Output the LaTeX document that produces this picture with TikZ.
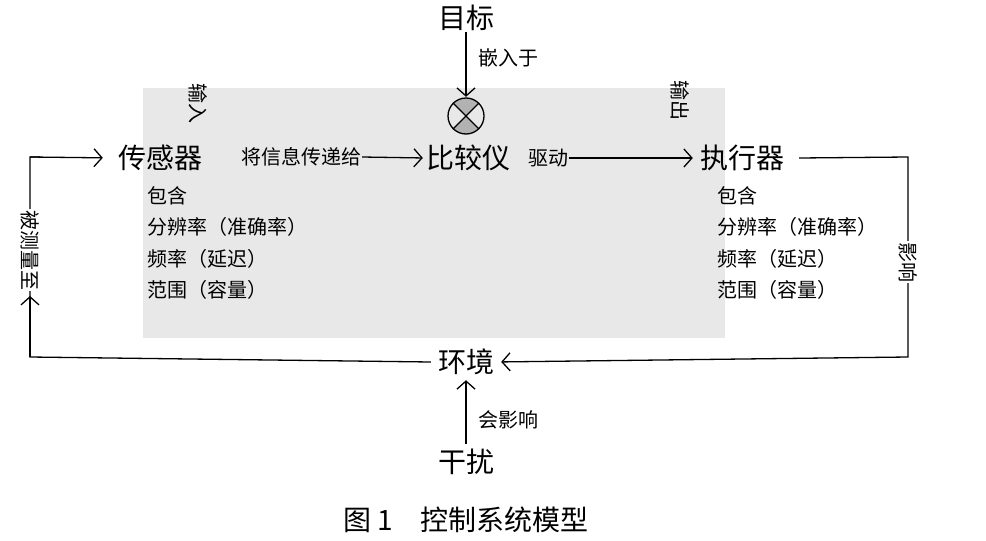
\documentclass[tikz,border=0pt]{standalone}
\usepackage{fontspec}
\setmainfont{Noto Sans CJK SC}
\usetikzlibrary{arrows.meta}
\tikzset{
 big/.style={font=\fontsize{28}{30}\selectfont, inner sep=1pt},
 small/.style={font=\fontsize{20}{22}\selectfont, inner sep=1pt},
 arr/.style={line width=1.3pt,-{Straight Barb[length=8pt,width=18pt,line width=1.3pt]}},
 ln/.style={line width=1.3pt},
}
\begin{document}
\begin{tikzpicture}[x=1pt,y=-1pt]
\useasboundingbox (0,0) rectangle (986,541);
\fill[black!9] (143,88) rectangle (725,338);
\node[big] (goal) at (466,18) {目标};
\node[small,fill=white] (embed) at (508,58) {嵌入于};
\node[circle,minimum size=36pt,inner sep=0] (cmpc) at (466,116) {};
\begin{scope}
\clip (cmpc.center) circle (18);
\fill[black!30] (cmpc.center) -- ++(-20,-20) -- ++(40,0) -- cycle;
\fill[black!30] (cmpc.center) -- ++(-20,20) -- ++(40,0) -- cycle;
\end{scope}
\draw[line width=1.3pt] (cmpc.north west) -- (cmpc.south east) (cmpc.north east) -- (cmpc.south west);
\draw[line width=1.3pt] (cmpc.center) circle (18);
\draw[arr,shorten >=1pt] (goal.south) -- (cmpc.north);
\node[small,rotate=-90] (in) at (198,103) {输入};
\node[small,rotate=-90] (out) at (680,100) {输出};
\node[big] (sensor) at (160,158) {传感器};
\node[small,fill=black!9] (pass) at (301,157) {将信息传递给};
\node[big] (cmp) at (468,158) {比较仪};
\node[small] (drive) at (548,158) {驱动};
\node[big] (act) at (742,158) {执行器};
\node[big] (env) at (466,362) {环境};
\node[big] (dist) at (466,462) {干扰};
\node[small,fill=white] (aff2) at (508,420) {会影响};
\draw[arr,shorten >=2pt] (pass.east) -- (cmp.west);
\draw[arr,shorten >=6pt] (drive.east) -- (act.west);
\coordinate (r1) at (908,157);
\coordinate (r2) at (908,357);
\draw[arr,shorten >=6pt] (act.east) ++(14,0) -- (r1) -- (r2) -- (env.east);
\node[small,rotate=-90,fill=white] (aff) at (908,262) {影响};
\coordinate (l1) at (30,357);
\coordinate (l2) at (30,157);
\coordinate (lm) at (30,296);
\draw[ln] (env.west) ++(-6,0) -- (l1) -- (l2) -- ++(10,0);
\draw[arr,shorten >=14pt] (l2) -- (sensor.west);
\draw[arr] (l1) -- (lm);
\node[small,rotate=-90,fill=white] (meas) at (30,250) {被测量至};
\draw[arr,shorten >=4pt,shorten <=4pt] (dist.north) -- (env.south);
\node[small,align=left,anchor=north west,font=\fontsize{20}{31.5}\selectfont] (ls) at (146,185) {包含\\分辨率（准确率）\\频率（延迟）\\范围（容量）};
\node[small,align=left,anchor=north west,font=\fontsize{20}{31.5}\selectfont] (rs) at (716,185) {包含\\分辨率（准确率）\\频率（延迟）\\范围（容量）};
\node[font=\fontsize{28}{30}\selectfont] (cap) at (466,520) {图 1\quad 控制系统模型};
\end{tikzpicture}
\end{document}
